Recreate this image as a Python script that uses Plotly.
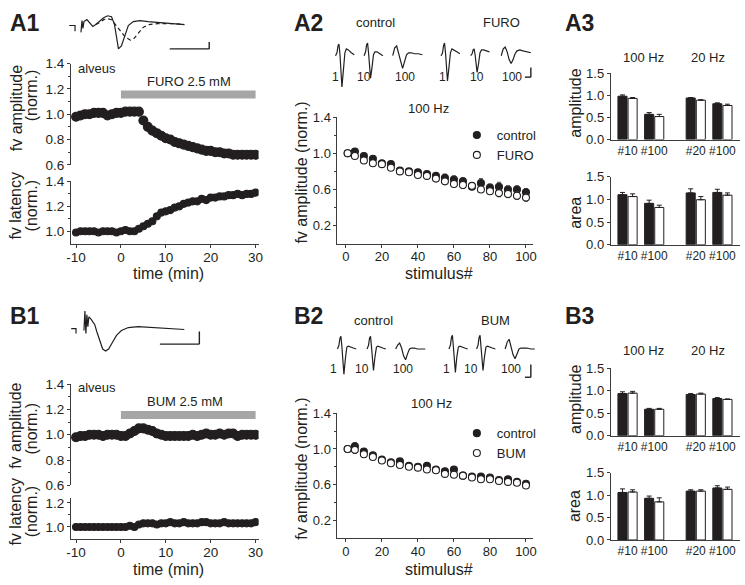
import plotly.graph_objects as go

W, H = 745, 585
INK = "#231f20"
AXIS_COL = "#3c3c3c"
DRUG_GREY = "#a6a6a6"
FONT = "Liberation Sans, Arial, sans-serif"

# ---------------- data ----------------
TIME_MIN = list(range(-10, 31))

A1_AMP = [0.98, 0.99, 1.00, 1.00, 1.01, 1.01, 1.01, 0.99, 1.00, 1.01,
          1.01, 1.02, 1.02, 1.02, 1.02,
          0.95, 0.90, 0.87, 0.85, 0.83, 0.81, 0.80, 0.78, 0.77, 0.76, 0.75, 0.74, 0.73,
          0.72, 0.71, 0.71, 0.70, 0.70, 0.69, 0.69, 0.68, 0.68, 0.68, 0.68, 0.68, 0.68]
A1_AMP_ERR = [0.008, 0.008, 0.008, 0.008, 0.008, 0.008, 0.008, 0.008, 0.008, 0.008,
              0.008, 0.008, 0.008, 0.008, 0.008,
              0.012, 0.012, 0.012, 0.012, 0.012, 0.012, 0.014, 0.014, 0.014, 0.014, 0.014, 0.014, 0.014,
              0.015, 0.015, 0.015, 0.015, 0.015, 0.015, 0.015, 0.015, 0.015, 0.015, 0.015, 0.015, 0.015]
A1_LAT = [0.99, 1.00, 1.00, 1.00, 1.00, 0.99, 1.00, 1.00, 1.00, 0.99,
          1.00, 1.01, 1.00, 1.00, 1.02,
          1.04, 1.06, 1.08, 1.12, 1.15, 1.16, 1.17, 1.19, 1.20, 1.22, 1.23, 1.24, 1.24,
          1.26, 1.25, 1.27, 1.27, 1.28, 1.28, 1.29, 1.29, 1.30, 1.29, 1.30, 1.30, 1.31]
A1_LAT_ERR = [0.005, 0.005, 0.005, 0.005, 0.005, 0.005, 0.005, 0.005, 0.005, 0.005,
              0.005, 0.005, 0.005, 0.005, 0.005,
              0.010, 0.010, 0.012, 0.012, 0.015, 0.015, 0.015, 0.015, 0.018, 0.018, 0.018, 0.020, 0.020,
              0.020, 0.020, 0.020, 0.020, 0.022, 0.022, 0.022, 0.022, 0.022, 0.022, 0.022, 0.022, 0.022]

B1_AMP = [0.98, 0.99, 0.99, 1.00, 1.00, 1.00, 0.99, 1.00, 1.00, 1.00,
          0.99, 0.99, 1.01, 1.03, 1.05, 1.05, 1.04, 1.03, 1.01, 1.00,
          0.99, 0.99, 0.99, 0.99, 0.99, 0.99, 1.00, 0.99, 1.00, 1.01, 1.00,
          1.00, 1.01, 1.00, 1.01, 1.01, 0.99, 1.00, 1.00, 1.00, 1.00]
B1_LAT = [1.00, 1.00, 1.00, 1.00, 1.00, 1.00, 1.00, 1.00, 1.00, 1.00,
          1.00, 1.00, 1.01, 1.00, 1.02,
          1.03, 1.03, 1.03, 1.02, 1.03, 1.03, 1.04, 1.03, 1.03, 1.04, 1.03, 1.03, 1.03,
          1.04, 1.04, 1.03, 1.03, 1.03, 1.04, 1.03, 1.03, 1.03, 1.03, 1.03, 1.03, 1.04]

DRUG_WINDOW = [0, 30]
DRUG_LEVEL = [1.155, 1.155]

STIM = [1, 5, 10, 15, 20, 25, 30, 35, 40, 45, 50, 55, 60, 65, 70, 75, 80, 85, 90, 95, 100]
A2_CTRL = [1.00, 1.02, 0.97, 0.94, 0.89, 0.88, 0.81, 0.80, 0.79, 0.77, 0.75,
           0.73, 0.71, 0.69, 0.63, 0.67, 0.62, 0.63, 0.60, 0.60, 0.57]
A2_CTRL_ERR = [0.0, 0.03, 0.03, 0.03, 0.03, 0.03, 0.03, 0.03, 0.03, 0.03, 0.03,
               0.04, 0.04, 0.04, 0.03, 0.05, 0.04, 0.05, 0.04, 0.04, 0.04]
A2_FURO = [1.00, 0.97, 0.92, 0.89, 0.88, 0.84, 0.80, 0.79, 0.76, 0.75, 0.72,
           0.69, 0.66, 0.65, 0.64, 0.60, 0.58, 0.56, 0.55, 0.53, 0.51]
A2_FURO_ERR = [0.0, 0.03, 0.03, 0.03, 0.03, 0.03, 0.03, 0.03, 0.03, 0.03, 0.03,
               0.03, 0.03, 0.04, 0.03, 0.03, 0.03, 0.04, 0.04, 0.04, 0.04]

B2_CTRL = [1.00, 1.03, 0.97, 0.93, 0.88, 0.85, 0.86, 0.81, 0.80, 0.81, 0.77,
           0.75, 0.77, 0.70, 0.69, 0.69, 0.68, 0.65, 0.66, 0.63, 0.61]
B2_CTRL_ERR = [0.0, 0.04, 0.03, 0.02, 0.02, 0.02, 0.02, 0.02, 0.02, 0.02, 0.02,
               0.02, 0.02, 0.02, 0.02, 0.02, 0.02, 0.02, 0.02, 0.02, 0.02]
B2_BUM = [1.00, 0.99, 0.94, 0.91, 0.87, 0.84, 0.82, 0.80, 0.79, 0.77, 0.76,
          0.72, 0.71, 0.70, 0.68, 0.66, 0.66, 0.64, 0.63, 0.62, 0.59]
B2_BUM_ERR = [0.0, 0.04, 0.03, 0.03, 0.02, 0.02, 0.02, 0.02, 0.02, 0.02, 0.02,
              0.02, 0.02, 0.02, 0.02, 0.02, 0.02, 0.02, 0.02, 0.02, 0.02]

BAR_LABELS = ["#10", "#100", "#20", "#100"]
A3_AMP_CTRL = [0.98, 0.57, 0.94, 0.81]
A3_AMP_CTRL_ERR = [0.03, 0.04, 0.01, 0.02]
A3_AMP_FURO = [0.93, 0.52, 0.89, 0.77]
A3_AMP_FURO_ERR = [0.02, 0.05, 0.01, 0.03]
A3_AREA_CTRL = [1.10, 0.91, 1.14, 1.15]
A3_AREA_CTRL_ERR = [0.05, 0.07, 0.09, 0.07]
A3_AREA_FURO = [1.06, 0.82, 0.99, 1.09]
A3_AREA_FURO_ERR = [0.06, 0.05, 0.07, 0.05]
B3_AMP_CTRL = [0.94, 0.59, 0.92, 0.83]
B3_AMP_CTRL_ERR = [0.04, 0.02, 0.02, 0.02]
B3_AMP_BUM = [0.95, 0.59, 0.93, 0.81]
B3_AMP_BUM_ERR = [0.04, 0.02, 0.02, 0.01]
B3_AREA_CTRL = [1.06, 0.93, 1.09, 1.16]
B3_AREA_CTRL_ERR = [0.08, 0.05, 0.03, 0.05]
B3_AREA_BUM = [1.07, 0.85, 1.09, 1.13]
B3_AREA_BUM_ERR = [0.05, 0.09, 0.03, 0.05]

# example fiber volleys (A1: solid control, dashed FURO; B1: control)
A1_WAVE_T = [0, 6, 6, None, 12, 13, 14, 15, 18, 21, 24, 27, 31, 35, 39, 43, 46, 48, 50, 53,
             56, 60, 65, 72, 80, 95, 117]
A1_WAVE_CTRL = [-1, -1, -7, None, -8, 4, -4, 3, 5, 2, -2, 0, 4, 7, 9, 8, 0, -12, -25, -22,
                -12, -1, 3, 4, 3, 2, 0]
A1_WAVE_T_FURO = [27, 31, 35, 39, 43, 47, 52, 57, 62, 66, 70, 75, 81, 90, 105, 117]
A1_WAVE_FURO = [0, 2, 5, 6, 5, 0, -7, -13, -16, -14, -9, -3, 0, 1, 1, 0]
B1_WAVE_T = [0, 5, 5, None, 13, 14, 15, 16, 17, 18, 20, 22, 24, 26, 29, 32, 35, 38, 42, 46,
             51, 58, 68, 83, 98, 115]
B1_WAVE = [0, 0, -5, None, -2, 18, -5, 14, 2, 12, 10, 7, 4, -3, -13, -21, -23, -21, -14, -7,
           -2, 1, 2, 1, 0, -1]

# responses to stimulus 1, 10 and 100 of the train
T_SHORT = [0, 1.5, 2.5, 3.5, 4.5, 5.5, 6.5, 8, 9.5, 11, 13, 16, 19]
T_LONG = [0, 2, 4, 6, 8, 10, 12, 14, 16, 19, 22, 26, 30]
A2_CTRL_1 = [0, 3, 10, 12, 2, -20, -32, -15, 3, 7, 6, 3, 1]
A2_CTRL_10 = [0, 4, 11, 13, 3, -14, -23, -12, 1, 4, 4, 2, 0]
A2_CTRL_100 = [0, 8, 10, 2, -8, -13, -6, 1, 3, 3, 2, 2, 1]
A2_FURO_1 = [0, 3, 10, 13, 3, -16, -26, -12, 3, 7, 6, 4, 2]
A2_FURO_10 = [0, 2, 6, 7, 1, -10, -17, -8, 3, 6, 6, 5, 4]
A2_FURO_100 = [0, 7, 9, 4, -4, -8, -4, 2, 5, 6, 5, 4, 3]
B2_CTRL_1 = [0, 4, 11, 13, 2, -16, -26, -10, 2, 3, 2, 1, 0]
B2_CTRL_10 = [0, 4, 11, 13, 2, -14, -22, -8, 2, 3, 2, 1, 0]
B2_CTRL_100 = [0, 4, 6, 1, -7, -11, -5, 0, 1, 1, 0, 0, 0]
B2_BUM_1 = [0, 4, 12, 14, 2, -15, -24, -8, 2, 3, 2, 1, 0]
B2_BUM_10 = [0, 4, 12, 14, 2, -14, -22, -8, 2, 3, 2, 1, 0]
B2_BUM_100 = [0, 7, 10, 2, -6, -10, -4, 0, 1, 1, 1, 0, 0]
STIM_LABELS = ["1", "10", "100"]

# ---------------- layout helpers ----------------
def xd(a, b):
    return [a / W, b / W]


def yd(top, bottom):
    return [1 - bottom / H, 1 - top / H]


def hidden(domain, rng, anchor):
    return dict(domain=domain, range=rng, visible=False, fixedrange=True, anchor=anchor)


def shown(domain, rng, anchor, tickvals, ticktext, size=13, minor=None, ticks="outside", standoff=0):
    d = dict(domain=domain, range=rng, anchor=anchor, fixedrange=True,
             showgrid=False, zeroline=False, showline=True, linecolor=AXIS_COL, linewidth=1,
             ticks=ticks, ticklen=3, tickwidth=1, tickcolor=AXIS_COL, ticklabelstandoff=standoff,
             tickvals=tickvals, ticktext=ticktext, tickfont=dict(size=size, color=INK))
    if minor:
        d["minor"] = dict(tickvals=minor, ticks="outside", ticklen=2, tickcolor=AXIS_COL)
    return d


def ann(text, x, y, size=13, xanchor="center", angle=0, bold=False):
    if bold:
        text = "<b>" + text + "</b>"
    return dict(text=text, x=x / W, y=1 - y / H, xref="paper", yref="paper", showarrow=False,
                xanchor=xanchor, yanchor="middle", textangle=angle,
                font=dict(size=size, color=INK, family=FONT))


def bar_line(x0, y0, x1, y1):
    return dict(type="line", xref="paper", yref="paper", x0=x0 / W, y0=1 - y0 / H,
                x1=x1 / W, y1=1 - y1 / H, line=dict(color=INK, width=1.4))


def dots(x, y, err, ax, filled=True, size=8, name=None, legend="legend"):
    return go.Scatter(x=x, y=y, mode="markers", xaxis="x" + ax, yaxis="y" + ax,
                      marker=dict(size=size, color=INK if filled else "white",
                                  line=dict(color=INK, width=1.1)),
                      error_y=dict(type="data", array=err, color="#505050", thickness=1, width=2),
                      name=name, showlegend=name is not None, legend=legend, hoverinfo="skip")


def wave(t, v, ax, shift=0, dash="solid"):
    return go.Scatter(x=[None if a is None else a + shift for a in t], y=v, mode="lines",
                      xaxis="x" + ax, yaxis="y" + ax, connectgaps=False,
                      line=dict(color=INK, width=1.2, dash=dash), showlegend=False, hoverinfo="skip")


GROUP_X = [0.63, 1.63, 3.19, 4.19]


def bars(vals, err, ax, filled):
    return go.Bar(x=GROUP_X, y=vals, xaxis="x" + ax, yaxis="y" + ax,
                  width=0.34, offset=-0.36 if filled else 0.02,
                  marker=dict(color=INK if filled else "white", line=dict(color=INK, width=1)),
                  error_y=dict(type="data", array=err, arrayminus=[0, 0, 0, 0], symmetric=False,
                               color=INK, thickness=1, width=2.5),
                  showlegend=False, hoverinfo="skip")


fig = go.Figure()

# ---- A1 / B1 time courses ----
for amp_ax, lat_ax, amp, lat, amp_err, lat_err in [("2", "3", A1_AMP, A1_LAT, A1_AMP_ERR, A1_LAT_ERR),
                                                    ("9", "10", B1_AMP, B1_LAT, None, None)]:
    fig.add_trace(go.Scatter(x=DRUG_WINDOW, y=DRUG_LEVEL, mode="lines", xaxis="x" + amp_ax,
                             yaxis="y" + amp_ax, line=dict(color=DRUG_GREY, width=8),
                             showlegend=False, hoverinfo="skip"))
    fig.add_trace(dots(TIME_MIN, amp, amp_err, amp_ax, size=9))
    fig.add_trace(dots(TIME_MIN, lat, lat_err, lat_ax, size=7))

fig.add_trace(wave(A1_WAVE_T, A1_WAVE_CTRL, "1"))
fig.add_trace(wave(A1_WAVE_T_FURO, A1_WAVE_FURO, "1", dash="4px,3px"))
fig.add_trace(wave(B1_WAVE_T, B1_WAVE, "8"))

# ---- A2 / B2 trains ----
fig.add_trace(dots(STIM, A2_CTRL, A2_CTRL_ERR, "5", size=7, name="control", legend="legend"))
fig.add_trace(dots(STIM, A2_FURO, A2_FURO_ERR, "5", filled=False, size=7, name="FURO", legend="legend"))
fig.add_trace(dots(STIM, B2_CTRL, B2_CTRL_ERR, "12", size=7, name="control", legend="legend2"))
fig.add_trace(dots(STIM, B2_BUM, B2_BUM_ERR, "12", filled=False, size=7, name="BUM", legend="legend2"))

A2_STARTS = [335, 364, 393, 442, 472, 503]
B2_STARTS = [337, 367, 396, 450, 478, 507]
for (t, v), s in zip([(T_SHORT, A2_CTRL_1), (T_SHORT, A2_CTRL_10), (T_LONG, A2_CTRL_100),
                      (T_SHORT, A2_FURO_1), (T_SHORT, A2_FURO_10), (T_LONG, A2_FURO_100)], A2_STARTS):
    fig.add_trace(wave(t, v, "4", shift=s))
for (t, v), s in zip([(T_SHORT, B2_CTRL_1), (T_SHORT, B2_CTRL_10), (T_LONG, B2_CTRL_100),
                      (T_SHORT, B2_BUM_1), (T_SHORT, B2_BUM_10), (T_LONG, B2_BUM_100)], B2_STARTS):
    fig.add_trace(wave(t, v, "11", shift=s))

# ---- A3 / B3 bars ----
for ax, ctrl, ctrl_err, drug, drug_err in [("6", A3_AMP_CTRL, A3_AMP_CTRL_ERR, A3_AMP_FURO, A3_AMP_FURO_ERR),
                                           ("7", A3_AREA_CTRL, A3_AREA_CTRL_ERR, A3_AREA_FURO, A3_AREA_FURO_ERR),
                                           ("13", B3_AMP_CTRL, B3_AMP_CTRL_ERR, B3_AMP_BUM, B3_AMP_BUM_ERR),
                                           ("14", B3_AREA_CTRL, B3_AREA_CTRL_ERR, B3_AREA_BUM, B3_AREA_BUM_ERR)]:
    fig.add_trace(bars(ctrl, ctrl_err, ax, True))
    fig.add_trace(bars(drug, drug_err, ax, False))

# ---------------- axes ----------------
T_RANGE = [-11.1, 30.66]
T_TICKS = [-10, 0, 10, 20, 30]
T_TEXT = ["-10", "0", "10", "20", "30"]
AMP_TICKS = [0.6, 0.8, 1.0, 1.2, 1.4]
AMP_TEXT = ["0.6", "0.8", "1.0", "1.2", "1.4"]
STIM_TICKS = [0, 20, 40, 60, 80, 100]
BAR_TICKS = [0.0, 0.5, 1.0, 1.5]
BAR_TEXT = ["0.0", "0.5", "1.0", "1.5"]
TRAIN_RANGE = [-4.66, 103.8]

axes = {
    # A1
    "xaxis": hidden(xd(65, 182), [0, 117], "y"),
    "yaxis": hidden(yd(5, 48), [-30, 13], "x"),
    "xaxis2": hidden(xd(67, 257), T_RANGE, "y2"),
    "yaxis2": shown(yd(58, 162), [0.6, 1.4], "x2", AMP_TICKS, AMP_TEXT, 13.5, [0.7, 0.9, 1.1, 1.3]),
    "xaxis3": shown(xd(67, 257), T_RANGE, "y3", T_TICKS, T_TEXT, 13.5, standoff=-2),
    "yaxis3": shown(yd(179, 243), [0.9, 1.4], "x3", [1.0, 1.2, 1.4], ["1.0", "1.2", "1.4"], 13.5, [1.1, 1.3]),
    # A2
    "xaxis4": hidden(xd(330, 540), [330, 540], "y4"),
    "yaxis4": hidden(yd(28, 86), [-36, 22], "x4"),
    "xaxis5": shown(xd(337, 535), TRAIN_RANGE, "y5", STIM_TICKS, [str(v) for v in STIM_TICKS], 13, standoff=-2),
    "yaxis5": shown(yd(113, 243), [0, 1.4], "x5", [0.2, 0.6, 1.0, 1.4], ["0.2", "0.6", "1.0", "1.4"], 13,
                    [0.4, 0.8, 1.2]),
    # A3
    "xaxis6": shown(xd(614, 745), [0, 4.85], "y6", GROUP_X, BAR_LABELS, 12, ticks=""),
    "yaxis6": shown(yd(68, 136), [0, 1.5], "x6", BAR_TICKS, BAR_TEXT, 13),
    "xaxis7": shown(xd(614, 745), [0, 4.85], "y7", GROUP_X, BAR_LABELS, 12, ticks=""),
    "yaxis7": shown(yd(174, 244), [0, 1.5], "x7", BAR_TICKS, BAR_TEXT, 13),
    # B1
    "xaxis8": hidden(xd(67, 182), [0, 115], "y8"),
    "yaxis8": hidden(yd(305, 358), [-28, 25], "x8"),
    "xaxis9": hidden(xd(67, 257), T_RANGE, "y9"),
    "yaxis9": shown(yd(387, 491), [0.6, 1.4], "x9", AMP_TICKS, AMP_TEXT, 13.5, [0.7, 0.9, 1.1, 1.3]),
    "xaxis10": shown(xd(67, 257), T_RANGE, "y10", T_TICKS, T_TEXT, 13.5, standoff=-2),
    "yaxis10": shown(yd(504, 546), [0.9, 1.24], "x10", [1.0, 1.2], ["1.0", "1.2"], 13.5, [1.1]),
    # B2
    "xaxis11": hidden(xd(330, 540), [330, 540], "y11"),
    "yaxis11": hidden(yd(328, 382), [-31, 23], "x11"),
    "xaxis12": shown(xd(337, 535), TRAIN_RANGE, "y12", STIM_TICKS, [str(v) for v in STIM_TICKS], 13, standoff=-2),
    "yaxis12": shown(yd(417, 545), [0, 1.4], "x12", [0.2, 0.6, 1.0, 1.4], ["0.2", "0.6", "1.0", "1.4"], 13,
                     [0.4, 0.8, 1.2]),
    # B3
    "xaxis13": shown(xd(614, 745), [0, 4.85], "y13", GROUP_X, BAR_LABELS, 12, ticks=""),
    "yaxis13": shown(yd(371, 440), [0, 1.5], "x13", BAR_TICKS, BAR_TEXT, 13),
    "xaxis14": shown(xd(614, 745), [0, 4.85], "y14", GROUP_X, BAR_LABELS, 12, ticks=""),
    "yaxis14": shown(yd(478, 547), [0, 1.5], "x14", BAR_TICKS, BAR_TEXT, 13),
}

# ---------------- text ----------------
annotations = [
    ann("A1", 3, 16, 23, "left", bold=True), ann("A2", 291, 16, 23, "left", bold=True),
    ann("A3", 566, 16, 23, "left", bold=True), ann("B1", 3, 317, 23, "left", bold=True),
    ann("B2", 291, 317, 23, "left", bold=True), ann("B3", 566, 317, 23, "left", bold=True),
    # A1 / B1
    ann("alveus", 72, 63, 13, "left"), ann("FURO 2.5 mM", 187, 76, 13),
    ann("alveus", 72, 390, 13, "left"), ann("BUM 2.5 mM", 182, 405, 13),
    ann("fv amplitude", 11, 104, 16, angle=-90), ann("(norm.)", 27, 91, 16, angle=-90),
    ann("fv latency", 11, 204, 16, angle=-90), ann("(norm.)", 27, 204, 16, angle=-90),
    ann("time (min)", 166, 274, 16),
    ann("fv amplitude", 11, 430, 16, angle=-90), ann("(norm.)", 27, 433, 16, angle=-90),
    ann("fv latency", 11, 518, 16, angle=-90), ann("(norm.)", 27, 518, 16, angle=-90),
    ann("time (min)", 166, 577, 16),
    # A2 / B2
    ann("control", 376, 16, 13), ann("FURO", 503, 16, 13), ann("100 Hz", 429, 104, 13),
    ann("fv amplitude (norm.)", 301, 170, 16, angle=-90), ann("stimulus#", 440, 274, 16),
    ann("control", 374, 322, 13), ann("BUM", 497, 322, 13), ann("100 Hz", 432, 407, 13),
    ann("fv amplitude (norm.)", 301, 474, 16, angle=-90), ann("stimulus#", 440, 577, 16),
    # A3 / B3
    ann("100 Hz", 647, 52, 13), ann("20 Hz", 713, 52, 13),
    ann("amplitude", 578, 99, 16, angle=-90), ann("area", 578, 211, 16, angle=-90),
    ann("100 Hz", 647, 353, 13), ann("20 Hz", 713, 353, 13),
    ann("amplitude", 578, 403, 16, angle=-90), ann("area", 578, 512, 16, angle=-90),
]
for xs, y in [([335, 364, 405, 443, 478, 514], 72), ([333, 362, 403, 447, 472, 513], 372)]:
    for x, lab in zip(xs, STIM_LABELS * 2):
        annotations.append(ann(lab, x, y, 12))

shapes = [
    bar_line(167, 43, 207, 43), bar_line(207, 36, 207, 43),
    bar_line(157, 346, 197, 346), bar_line(197, 333, 197, 346),
    bar_line(527, 72, 533, 72), bar_line(533, 62, 533, 72),
    bar_line(527, 380, 533, 380), bar_line(533, 367, 533, 380),
]

legend_style = dict(xanchor="left", yanchor="top", bgcolor="rgba(0,0,0,0)",
                    font=dict(size=13, color=INK, family=FONT), itemwidth=30,
                    tracegroupgap=0, itemclick=False, itemdoubleclick=False)

fig.update_layout(
    width=W, height=H, margin=dict(l=0, r=0, t=0, b=0),
    paper_bgcolor="white", plot_bgcolor="white",
    font=dict(family=FONT, color=INK),
    barmode="overlay", showlegend=True,
    legend=dict(x=458 / W, y=1 - 116 / H, **legend_style),
    legend2=dict(x=458 / W, y=1 - 422 / H, **legend_style),
    annotations=annotations, shapes=shapes,
    **axes,
)

# the page body has a default 8px margin; drop it so the figure fills the window
fig.write_html("out.html", config={"displayModeBar": False},
               post_script="document.body.style.margin = '0';")
